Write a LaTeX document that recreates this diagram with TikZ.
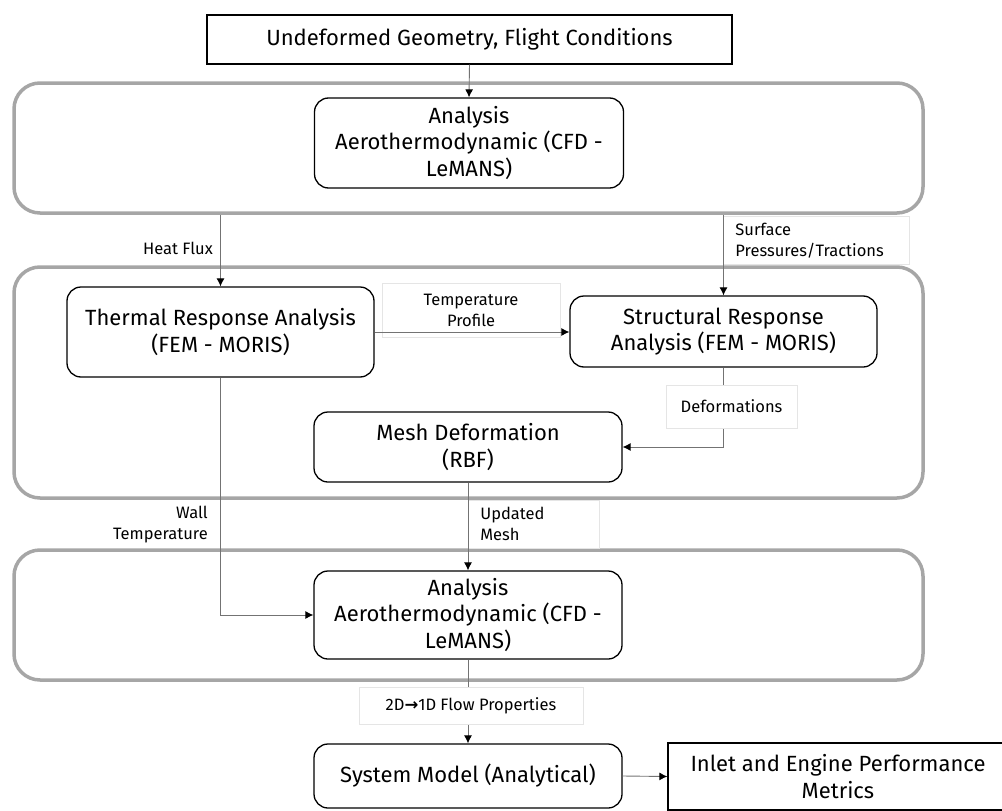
\documentclass[tikz,border=0pt]{standalone}
\usepackage{fontspec}
\setmainfont{Fira Sans}
\newfontfamily\arrowfont{DejaVu Sans}
\usetikzlibrary{arrows.meta}
\begin{document}
\begin{tikzpicture}[x=1pt,y=-1pt,
  box/.style={draw,line width=1.3pt,rounded corners=14pt,align=center,inner sep=0pt,font=\fontsize{22}{26.5}\selectfont},
  plainbox/.style={box,rounded corners=0pt},
  group/.style={draw=black!35,line width=3.5pt,rounded corners=26pt,inner sep=0pt},
  lbl/.style={draw=black!10,line width=0.8pt,fill=white,inner sep=0pt,font=\fontsize{16.5}{21}\selectfont},
  lbltext/.style={inner sep=0pt,font=\fontsize{16.5}{21}\selectfont},
  flow/.style={draw=black!55,line width=0.9pt,-{Latex[black,length=8pt,width=8pt]}}]
\useasboundingbox (0,0) rectangle (1002,811);
% groups
\node[group,minimum width=909pt,minimum height=130pt] (grpA) at (468.5,148) {};
\node[group,minimum width=909pt,minimum height=231pt] (grpB) at (468.5,382.5) {};
\node[group,minimum width=909pt,minimum height=130pt] (grpC) at (468.5,615) {};
% blocks
\node[plainbox,minimum width=525pt,minimum height=49pt] (geom) at (469.5,39.5) {Undeformed Geometry, Flight Conditions};
\node[box,minimum width=309pt,minimum height=90pt] (aeroA) at (469,143) {Analysis\\Aerothermodynamic (CFD -\\LeMANS)};
\node[box,minimum width=307pt,minimum height=90pt] (thermal) at (220.5,332) {Thermal Response Analysis\\(FEM - MORIS)};
\node[box,minimum width=307pt,minimum height=71pt] (struct) at (723.5,331.5) {Structural Response\\Analysis (FEM - MORIS)};
\node[box,minimum width=308pt,minimum height=70pt] (mesh) at (468,447) {Mesh Deformation\\(RBF)};
\node[box,minimum width=308pt,minimum height=88pt] (aeroB) at (468,615) {Analysis\\Aerothermodynamic (CFD -\\LeMANS)};
\node[box,minimum width=308pt,minimum height=64pt] (system) at (468,776) {System Model (Analytical)};
\node[plainbox,minimum width=340pt,minimum height=67pt] (inlet) at (838,776.5) {Inlet and Engine Performance\\Metrics};
% labels under the arrows
\node[lbl,align=center,minimum width=178pt,minimum height=54pt] (tempLbl) at (471,310) {Temperature\\Profile};
\node[lbl,anchor=north west,align=left,text width=162pt,inner xsep=12pt,minimum height=48pt] (surfLbl) at (723,216) {Surface\\Pressures/Tractions};
\node[lbl,anchor=north west,align=left,text width=107pt,inner xsep=12pt,minimum height=48pt] (meshLbl) at (468,500) {Updated\\Mesh};
\node[lbltext,anchor=east] (heatLbl) at (213,248) {Heat Flux};
\node[lbltext,anchor=east,align=right] (wallLbl) at (208,524.5) {Wall\\Temperature};
% arrows
\draw[flow] (geom.south) -- (aeroA.north);
\draw[flow] (thermal.north |- grpA.south) -- (thermal.north);
\draw[flow] (struct.north |- grpA.south) -- (struct.north);
\draw[flow] (thermal.east) -- (thermal.east -| struct.west);
\draw[flow] (struct.south) |- (mesh.east);
\draw[flow] (mesh.south) -- (aeroB.north);
\draw[flow] (thermal.south) |- (aeroB.west);
\draw[flow] (aeroB.south) -- (system.north);
\draw[flow] (system.east) -- (inlet.west);
% labels over the arrows
\node[lbl,align=center,minimum width=131pt,minimum height=43pt] (defLbl) at (731.5,406.5) {Deformations};
\node[lbl,align=center,minimum width=224pt,minimum height=37pt] (flowLbl) at (471,705.5) {2D{\arrowfont\bfseries →}1D Flow Properties};
\end{tikzpicture}
\end{document}
